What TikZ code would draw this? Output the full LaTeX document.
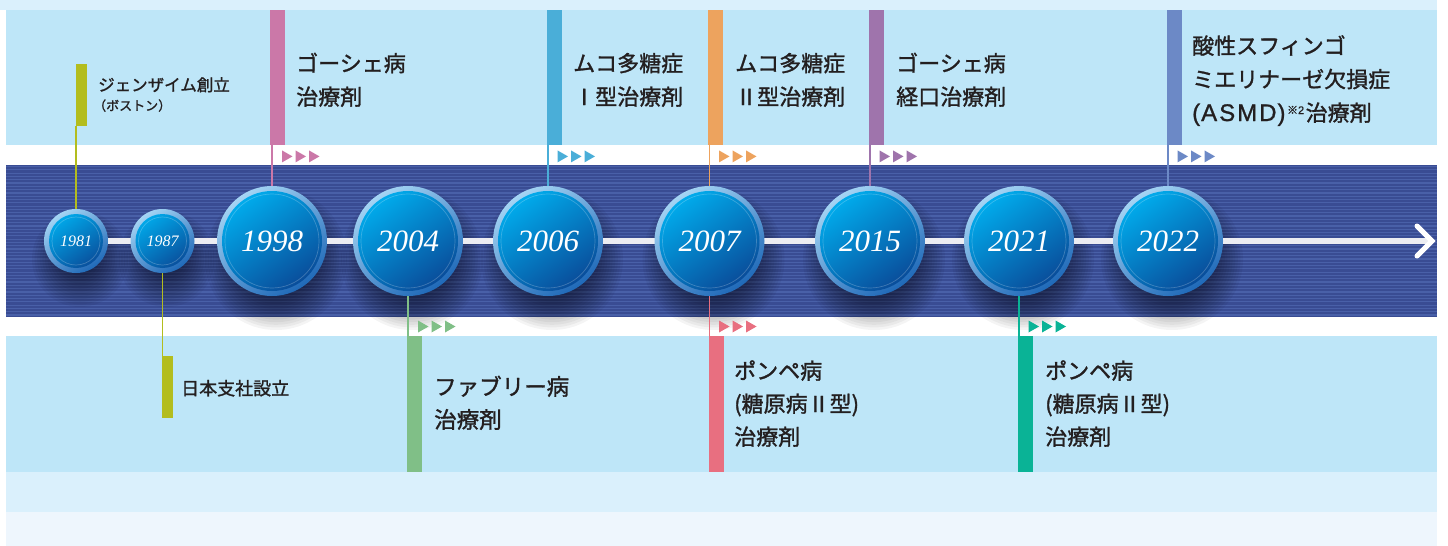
\documentclass[tikz,border=0pt]{standalone}
\usepackage{fontspec}
\setmainfont{Liberation Serif}
\newfontfamily\jp[FakeBold=1.3]{Noto Sans CJK JP}
\newfontfamily\yrf{Liberation Serif}
\newfontfamily\latf[FakeBold=1.0]{Liberation Sans}
\usetikzlibrary{calc}
\pgfdeclarelayer{bg}
\pgfsetlayers{bg,main}
\definecolor{boxc}{HTML}{BEE6F8}
\definecolor{stripc}{HTML}{DAF0FC}
\definecolor{palec}{HTML}{EEF6FD}
\definecolor{bandc}{HTML}{394C93}
\definecolor{bandl}{HTML}{4960A8}
\definecolor{axisc}{HTML}{ECEDF2}
\definecolor{txtc}{HTML}{231F20}
\definecolor{olivec}{HTML}{B3BD1E}
\definecolor{pinkc}{HTML}{CB78A8}
\definecolor{bluec}{HTML}{4AAED8}
\definecolor{orangec}{HTML}{EDA35E}
\definecolor{purplec}{HTML}{9F74AC}
\definecolor{slatec}{HTML}{6C89C6}
\definecolor{greenc}{HTML}{80BF87}
\definecolor{redc}{HTML}{E86F80}
\definecolor{tealc}{HTML}{0AB396}
\definecolor{ringtop}{HTML}{A4D4F4}
\definecolor{ringbot}{HTML}{1F69B8}
\definecolor{disctop}{HTML}{00B0F0}
\definecolor{discbot}{HTML}{0A4896}
\newcommand\tritrio[2]{\foreach \k in {0,1,2}{\fill[#2] ($(#1)+(\k*13.5,-6)$) -- ++(10.5,6) -- ++(-10.5,6) -- cycle;}}
\begin{document}
\begin{tikzpicture}[x=1pt,y=-1pt,
  ball/.style={circle, inner sep=0, minimum size=2*#1, top color=ringtop, bottom color=ringbot, shading angle=35, text=white,
    path picture={\shade[top color=disctop, bottom color=discbot, shading angle=35] (path picture bounding box.center) circle ({#1-5});
      \draw[white, opacity=0.22, line width=0.7] (path picture bounding box.center) circle ({#1-8});}},
  tbar/.style={fill=#1, inner sep=0, minimum width=15, minimum height=135, anchor=north west},
  sbar/.style={fill=#1, inner sep=0, minimum width=11, minimum height=62, anchor=north west},
  conn/.style={draw=#1, line width=1.5},
  lbl/.style={anchor=base west, inner sep=0, text=txtc, font=\jp\fontsize{22}{22}\selectfont},
]
\useasboundingbox (0,0) rectangle (1448,546);

% year circles
\foreach \n/\cx/\r/\fs in {1981/76/32/16,1987/162.5/32/16,1998/272/55/31,2004/408/55/31,2006/548/55/31,2007/709.5/55/31,2015/870/55/31,2021/1019/55/31,2022/1168/55/31}
  \node[ball=\r, font=\yrf\itshape\fontsize{\fs}{\fs}\selectfont] (y\n) at (\cx,241) {\n};

% bars
\node[sbar=olivec] (bar1981) at (76,64) {};
\node[sbar=olivec] (bar1987) at (162,356) {};
\node[tbar=pinkc] (bar1998) at (270,10) {};
\node[tbar=bluec] (bar2006) at (547,10) {};
\node[tbar=orangec] (bar2007t) at (708,10) {};
\node[tbar=purplec] (bar2015) at (869,10) {};
\node[tbar=slatec] (bar2022) at (1167,10) {};
\node[tbar=greenc, minimum height=136] (bar2004) at (407,336) {};
\node[tbar=redc, minimum height=136] (bar2007b) at (708.5,336) {};
\node[tbar=tealc, minimum height=136] (bar2021) at (1018,336) {};

% triangles
\coordinate (tr1998) at ($(bar1998.south west)+(12,11)$);
\coordinate (tr2006) at ($(bar2006.south west)+(10.5,11)$);
\coordinate (tr2007t) at ($(bar2007t.south west)+(11,11)$);
\coordinate (tr2015) at ($(bar2015.south west)+(10.5,11)$);
\coordinate (tr2022) at ($(bar2022.south west)+(10.5,11)$);
\coordinate (tr2004) at ($(bar2004.north west)+(11,-9.5)$);
\coordinate (tr2007b) at ($(bar2007b.north west)+(10.5,-9.5)$);
\coordinate (tr2021) at ($(bar2021.north west)+(10.5,-9.5)$);
\tritrio{tr1998}{pinkc}
\tritrio{tr2006}{bluec}
\tritrio{tr2007t}{orangec}
\tritrio{tr2015}{purplec}
\tritrio{tr2022}{slatec}
\tritrio{tr2004}{greenc}
\tritrio{tr2007b}{redc}
\tritrio{tr2021}{tealc}

% texts
\node[lbl, font=\jp\fontsize{16.5}{16.5}\selectfont] (t1981a) at (98,91) {ジェンザイム創立};
\node[lbl, font=\jp\fontsize{13}{13}\selectfont] (t1981b) at (93,110.5) {（ボストン）};
\node[lbl] (t1998a) at (296,71.5) {ゴーシェ病};
\node[lbl] (t1998b) at (296,105) {治療剤};
\node[lbl] (t2006a) at (573,71.5) {ムコ多糖症};
\node[lbl] (t2006b) at (573,105) {Ⅰ型治療剤};
\node[lbl] (t2007a) at (735,71.5) {ムコ多糖症};
\node[lbl] (t2007b) at (735,105) {Ⅱ型治療剤};
\node[lbl] (t2015a) at (896,71.5) {ゴーシェ病};
\node[lbl] (t2015b) at (896,105) {経口治療剤};
\node[lbl] (t2022a) at (1192,54) {酸性スフィンゴ};
\node[lbl] (t2022b) at (1192,87.5) {ミエリナーゼ欠損症};
\node[lbl] (t2022c) at (1192,121) {{\latf\fontsize{24}{24}\selectfont(\kern1pt A\kern2pt S\kern2pt M\kern2pt D\kern1pt)}\kern1.5pt\raisebox{7pt}{\fontsize{11}{11}\selectfont ※{\latf 2}}\kern1.5pt 治療剤};
\node[lbl, font=\jp\fontsize{18}{18}\selectfont] (t1987) at (181,395) {日本支社設立};
\node[lbl, font=\jp\fontsize{22.5}{22.5}\selectfont] (t2004a) at (434,395) {ファブリー病};
\node[lbl, font=\jp\fontsize{22.5}{22.5}\selectfont] (t2004b) at (434,428) {治療剤};
\node[lbl] (t2007c) at (734,379) {ポンペ病};
\node[lbl] (t2007d) at (734,412) {(糖原病Ⅱ型)};
\node[lbl] (t2007e) at (734,445) {治療剤};
\node[lbl] (t2021a) at (1045,379) {ポンペ病};
\node[lbl] (t2021b) at (1045,412) {(糖原病Ⅱ型)};
\node[lbl] (t2021c) at (1045,445) {治療剤};

\coordinate (tip) at (1432,241);

\begin{pgfonlayer}{bg}
  % background strips and boxes
  \fill[stripc] (0,0) rectangle (1437,10);
  \fill[boxc] (6,10) rectangle (1437,145);
  \fill[bandc] (6,165) rectangle (1437,317);
  \foreach \yy in {166.5,169.8,...,316} \draw[bandl, line width=1.2] (6,\yy) -- (1437,\yy);
  % circle shadows
  \foreach \n/\r in {1981/32,1987/32,1998/55,2004/55,2006/55,2007/55,2015/55,2021/55,2022/55}{
    \foreach \i in {0,...,13}{
      \fill[black, opacity=0.045] ($(y\n)+(4,18)$) circle ({\r+16-\i*2.6});
    }
  }
  \fill[boxc] (6,336) rectangle (1437,472);
  \fill[stripc] (6,472) rectangle (1437,512);
  \fill[palec] (6,512) rectangle (1437,546);
  % timeline axis
  \draw[axisc, line width=6] (y1981.center) -- ($(tip)+(-3,0)$);
  \draw[white, line width=5, line cap=round, line join=miter] (tip) ++(-15,-15) -- (tip) -- ++(-15,15);
  % connectors
  \draw[conn=olivec] (y1981.north) -- (y1981.north |- bar1981.south);
  \draw[conn=olivec] (y1987.south) -- (y1987.south |- bar1987.north);
  \draw[conn=pinkc] (y1998.north) -- (y1998.north |- bar1998.south);
  \draw[conn=bluec] (y2006.north) -- (y2006.north |- bar2006.south);
  \draw[conn=orangec] (y2007.north) -- (y2007.north |- bar2007t.south);
  \draw[conn=purplec] (y2015.north) -- (y2015.north |- bar2015.south);
  \draw[conn=slatec] (y2022.north) -- (y2022.north |- bar2022.south);
  \draw[conn=greenc] (y2004.south) -- (y2004.south |- bar2004.north);
  \draw[conn=redc] (y2007.south) -- (y2007.south |- bar2007b.north);
  \draw[conn=tealc] (y2021.south) -- (y2021.south |- bar2021.north);
\end{pgfonlayer}
\end{tikzpicture}
\end{document}
